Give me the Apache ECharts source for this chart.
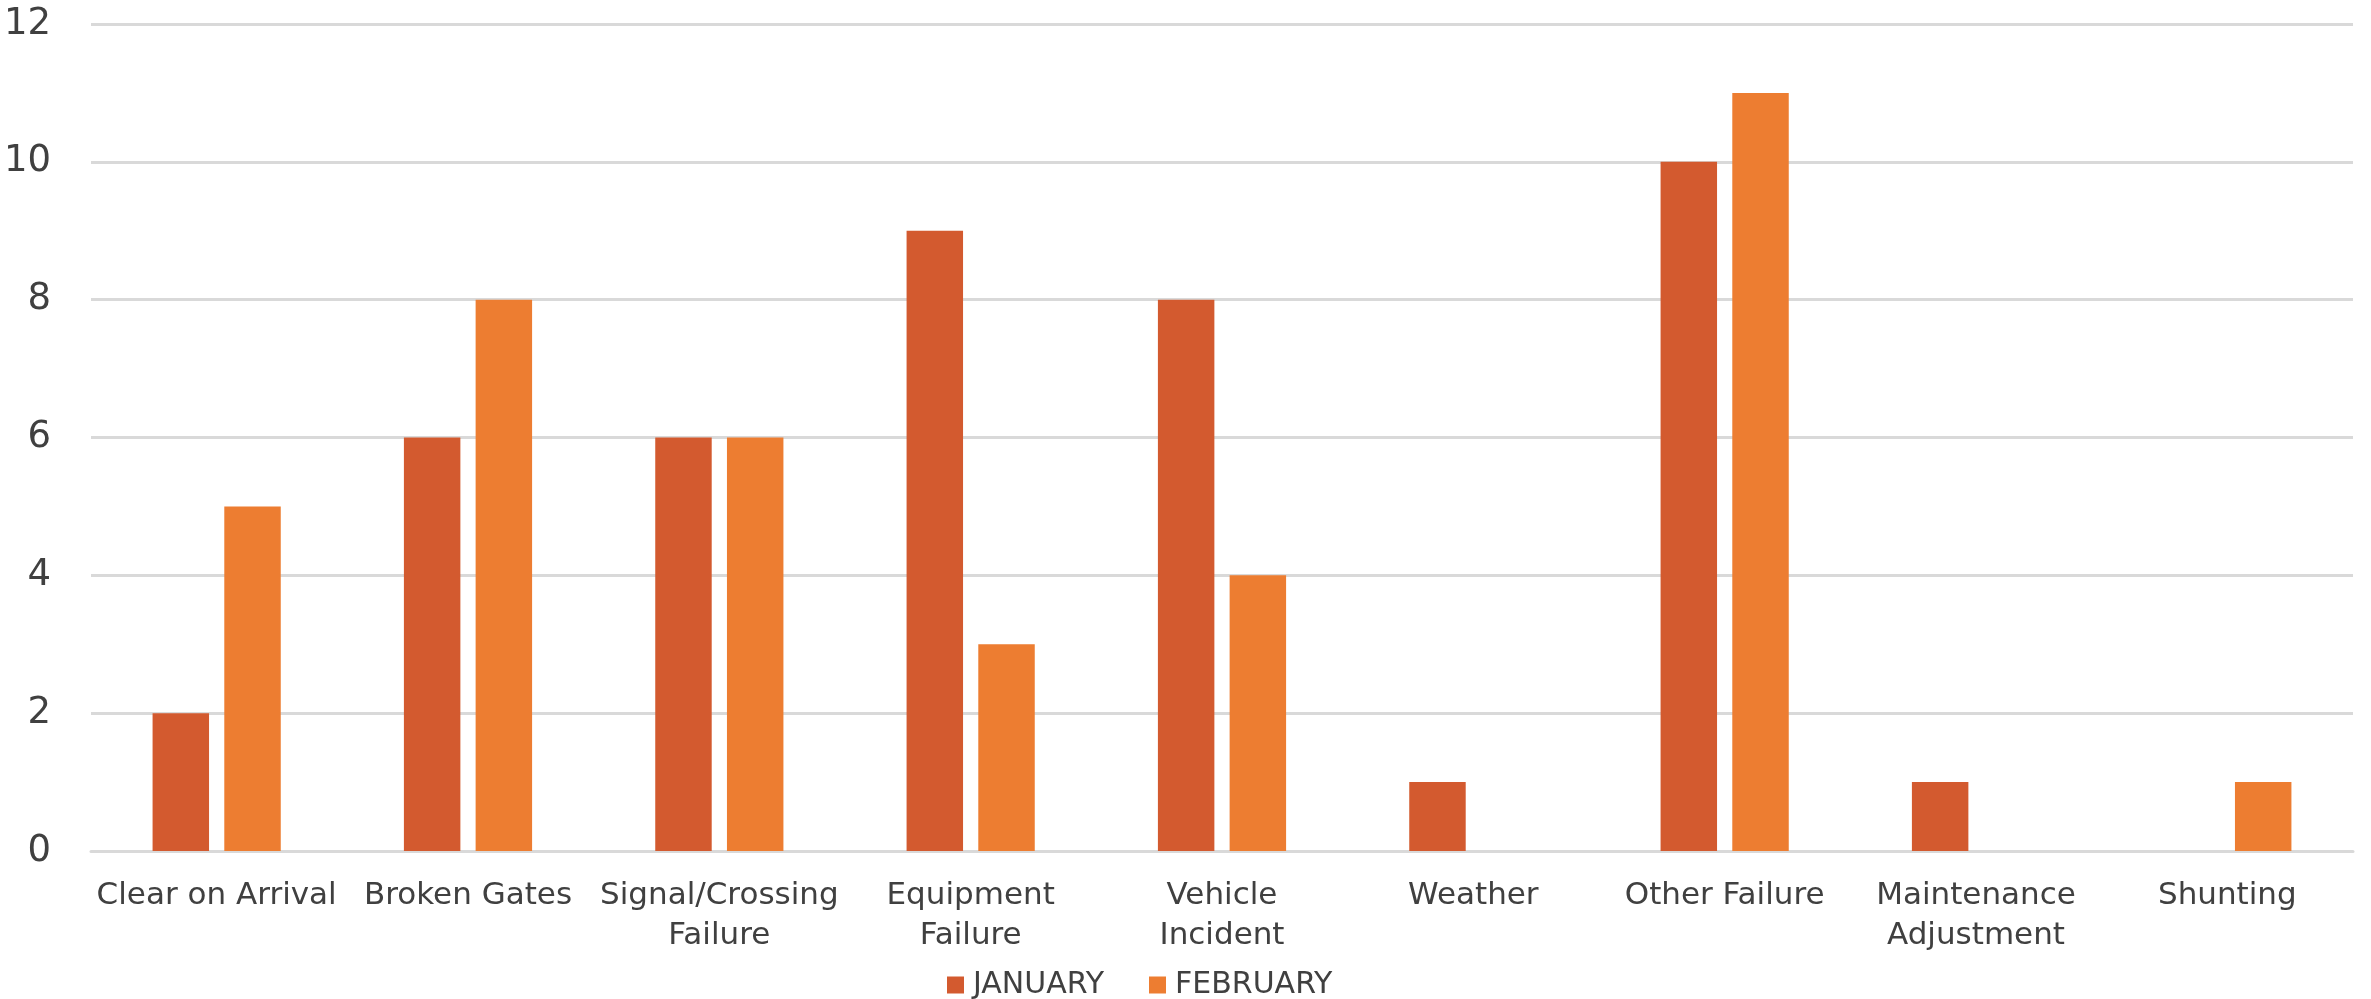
<!DOCTYPE html>
<html>
<head>
<meta charset="utf-8">
<script src="https://cdn.jsdelivr.net/npm/echarts@6/dist/echarts.min.js"></script>
<style>
html,body{margin:0;padding:0;background:#fff;}
#chart{width:2371px;height:999px;}
</style>
</head>
<body>
<div id="chart"></div>
<script>
const categories = ["Clear on Arrival", "Broken Gates", "Signal/Crossing\nFailure", "Equipment\nFailure", "Vehicle\nIncident", "Weather", "Other Failure", "Maintenance\nAdjustment", "Shunting"];
const january = [2, 6, 6, 9, 8, 1, 10, 1, 0];
const february = [5, 8, 6, 3, 4, 0, 11, 0, 1];
const yTicks = { min: 0, max: 12, interval: 2 };

const chart = echarts.init(document.getElementById('chart'), null, { renderer: 'canvas' });
const font = 'DejaVu Sans';
const textColor = '#404040';
chart.setOption({
  animation: false,
  backgroundColor: '#ffffff',
  textStyle: { fontFamily: font },
  grid: { left: 91, right: 18, top: 24, bottom: 148, containLabel: false, outerBoundsMode: 'none' },
  legend: {
    top: 965,
    left: 942,
    itemWidth: 17,
    itemHeight: 17,
    itemGap: 45,
    icon: 'rect',
    textStyle: { fontSize: 30, color: textColor, fontFamily: font, padding: [0, 0, 0, 4] },
    data: ['JANUARY', 'FEBRUARY']
  },
  xAxis: {
    type: 'category',
    data: categories,
    axisTick: { show: false },
    axisLine: { lineStyle: { color: '#d9d9d9', width: 3 } },
    axisLabel: { fontSize: 31, color: textColor, fontFamily: font, margin: 25, lineHeight: 40, interval: 0 }
  },
  yAxis: {
    type: 'value',
    min: yTicks.min,
    max: yTicks.max,
    interval: yTicks.interval,
    axisLine: { show: false },
    axisTick: { show: false },
    splitLine: { lineStyle: { color: '#d9d9d9', width: 3 } },
    axisLabel: { fontSize: 37, color: textColor, fontFamily: font, margin: 40 }
  },
  series: [
    { name: 'JANUARY', type: 'bar', data: january, itemStyle: { color: '#D35A2F' }, barGap: '27%', barCategoryGap: '49%' },
    { name: 'FEBRUARY', type: 'bar', data: february, itemStyle: { color: '#ED7D31' }, barGap: '27%', barCategoryGap: '49%' }
  ]
});
</script>
</body>
</html>
